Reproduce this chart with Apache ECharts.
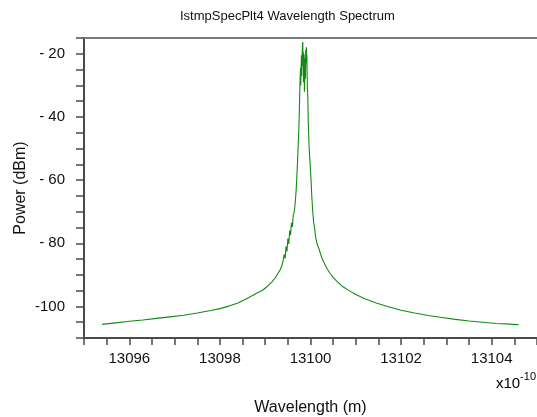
<!DOCTYPE html>
<html>
<head>
<meta charset="utf-8">
<script src="https://cdn.jsdelivr.net/npm/echarts@6/dist/echarts.min.js"></script>
<style>
  html, body { margin: 0; padding: 0; background: #fff; }
  #chart { width: 537px; height: 417px; }
</style>
</head>
<body>
<div id="chart"></div>
<script>
// Spectrum samples: wavelength in units of 1e-10 m, power in dBm
const wavelength = [
  13095.40, 13095.70, 13096.00, 13096.30, 13096.60, 13096.90, 13097.20, 13097.50,
  13097.80, 13098.00, 13098.20, 13098.40, 13098.60, 13098.80, 13098.95, 13099.05,
  13099.15, 13099.22, 13099.28, 13099.33, 13099.37, 13099.40, 13099.42, 13099.44,
  13099.46, 13099.48, 13099.50, 13099.52, 13099.54, 13099.56, 13099.58, 13099.60,
  13099.62, 13099.64, 13099.66, 13099.68, 13099.70, 13099.72, 13099.74, 13099.75,
  13099.76, 13099.77, 13099.78, 13099.785, 13099.79, 13099.80, 13099.805, 13099.81,
  13099.82, 13099.83, 13099.835, 13099.84, 13099.845, 13099.85, 13099.855, 13099.86,
  13099.865, 13099.87, 13099.875, 13099.88, 13099.885, 13099.89, 13099.895, 13099.90,
  13099.91, 13099.915, 13099.92, 13099.93, 13099.94, 13099.95, 13099.96, 13099.97,
  13099.99, 13100.01, 13100.03, 13100.05, 13100.07, 13100.09, 13100.11, 13100.13,
  13100.15, 13100.18, 13100.21, 13100.25, 13100.30, 13100.36, 13100.43, 13100.50,
  13100.60, 13100.70, 13100.85, 13101.00, 13101.20, 13101.45, 13101.70, 13102.00,
  13102.30, 13102.60, 13102.90, 13103.20, 13103.50, 13103.80, 13104.10, 13104.40,
  13104.60
];
const power = [
  -105.7, -105.2, -104.7, -104.3, -103.8, -103.3, -102.8, -102.1,
  -101.3, -100.7, -99.9, -98.9, -97.5, -95.9, -94.8, -93.6,
  -92.2, -91.0, -89.6, -88.4, -87.0, -85.2, -83.5, -84.8,
  -81.0, -82.6, -78.5, -80.2, -76.0, -77.4, -73.5, -74.8,
  -71.0, -70.2, -67.5, -64.0, -58.5, -52.0, -45.0, -40.5,
  -34.0, -28.0, -24.5, -30.0, -26.0, -20.5, -27.0, -23.0,
  -18.5, -16.3, -24.0, -19.5, -29.0, -27.5, -20.0, -21.0,
  -32.0, -31.0, -21.5, -22.5, -28.0, -26.0, -18.8, -19.5,
  -17.9, -23.0, -20.5, -30.0, -33.5, -41.0, -45.5, -50.0,
  -54.5, -59.5, -65.5, -70.0, -73.5, -75.0, -77.8, -78.2,
  -80.5, -81.5, -82.8, -84.6, -86.2, -87.9, -89.5, -90.8,
  -92.3, -93.6, -95.0, -96.2, -97.6, -98.9, -100.0, -101.2,
  -102.1, -102.9, -103.5, -104.1, -104.6, -105.0, -105.4, -105.6,
  -105.8
];
// Axis ranges and labelled tick steps
const xRange = [13095, 13105];
const yRange = [-110, -15];
const xLabelStep = 2;
const yLabelStep = 20;

const FONT = '"Liberation Sans", Arial, sans-serif';
const axisColor = '#4a4a4a';

const chart = echarts.init(document.getElementById('chart'), null, { renderer: 'canvas' });

chart.setOption({
  animation: false,
  backgroundColor: '#ffffff',
  title: {
    text: 'IstmpSpecPlt4 Wavelength Spectrum',
    left: 180,
    top: 10,
    padding: 0,
    textStyle: { fontFamily: FONT, fontSize: 13, fontWeight: 'normal', color: '#111' }
  },
  grid: { left: 84, right: 0, top: 38, bottom: 79, containLabel: false, outerBoundsMode: 'none' },
  xAxis: [{
    type: 'value',
    min: xRange[0],
    max: xRange[1],
    interval: 0.5,
    name: 'Wavelength (m)',
    nameLocation: 'middle',
    nameGap: 62,
    nameMoveOverlap: false,
    nameTextStyle: { fontFamily: FONT, fontSize: 16, color: '#111' },
    axisLine: { show: true, onZero: false, lineStyle: { color: axisColor, width: 2 } },
    axisTick: { show: true, inside: false, length: 7, lineStyle: { color: axisColor, width: 1.5 } },
    axisLabel: {
      interval: 0,
      margin: 13,
      fontFamily: FONT,
      fontSize: 15,
      color: '#111',
      formatter: v => (Math.abs(v % xLabelStep) < 1e-9 ? String(v) : '')
    },
    splitLine: { show: false }
  }, {
    type: 'value',
    position: 'top',
    min: xRange[0],
    max: xRange[1],
    axisLine: { show: true, onZero: false, lineStyle: { color: '#7a7a7a', width: 2 } },
    axisTick: { show: false },
    axisLabel: { show: false },
    splitLine: { show: false }
  }],
  yAxis: {
    type: 'value',
    min: yRange[0],
    max: yRange[1],
    interval: 5,
    name: 'Power (dBm)',
    nameLocation: 'middle',
    nameGap: 55,
    nameMoveOverlap: false,
    nameRotate: 90,
    nameTextStyle: { fontFamily: FONT, fontSize: 16, color: '#111' },
    axisLine: { show: true, onZero: false, lineStyle: { color: axisColor, width: 2 } },
    axisTick: { show: true, inside: false, length: 8, lineStyle: { color: axisColor, width: 1.5 } },
    axisLabel: {
      interval: 0,
      margin: 19,
      fontFamily: FONT,
      fontSize: 15,
      color: '#111',
      formatter: v => {
        if (Math.abs(v % yLabelStep) > 1e-9 || v === yRange[0]) return '';
        const a = Math.abs(v);
        return a < 100 ? '- ' + a : '-' + a;
      }
    },
    splitLine: { show: false }
  },
  graphic: [{
    type: 'text',
    right: 1,
    top: 371,
    style: {
      text: '{b|x10}{s|-10}',
      rich: {
        b: { fontFamily: FONT, fontSize: 15, color: '#111', verticalAlign: 'bottom', padding: [5, 0, 0, 0] },
        s: { fontFamily: FONT, fontSize: 11, color: '#111', verticalAlign: 'top' }
      }
    }
  }],
  series: [{
    type: 'line',
    xAxisIndex: 0,
    data: wavelength.map((w, i) => [w, power[i]]),
    showSymbol: false,
    symbol: 'none',
    lineStyle: { color: '#128a12', width: 1.1 },
    silent: true
  }]
});
</script>
</body>
</html>
